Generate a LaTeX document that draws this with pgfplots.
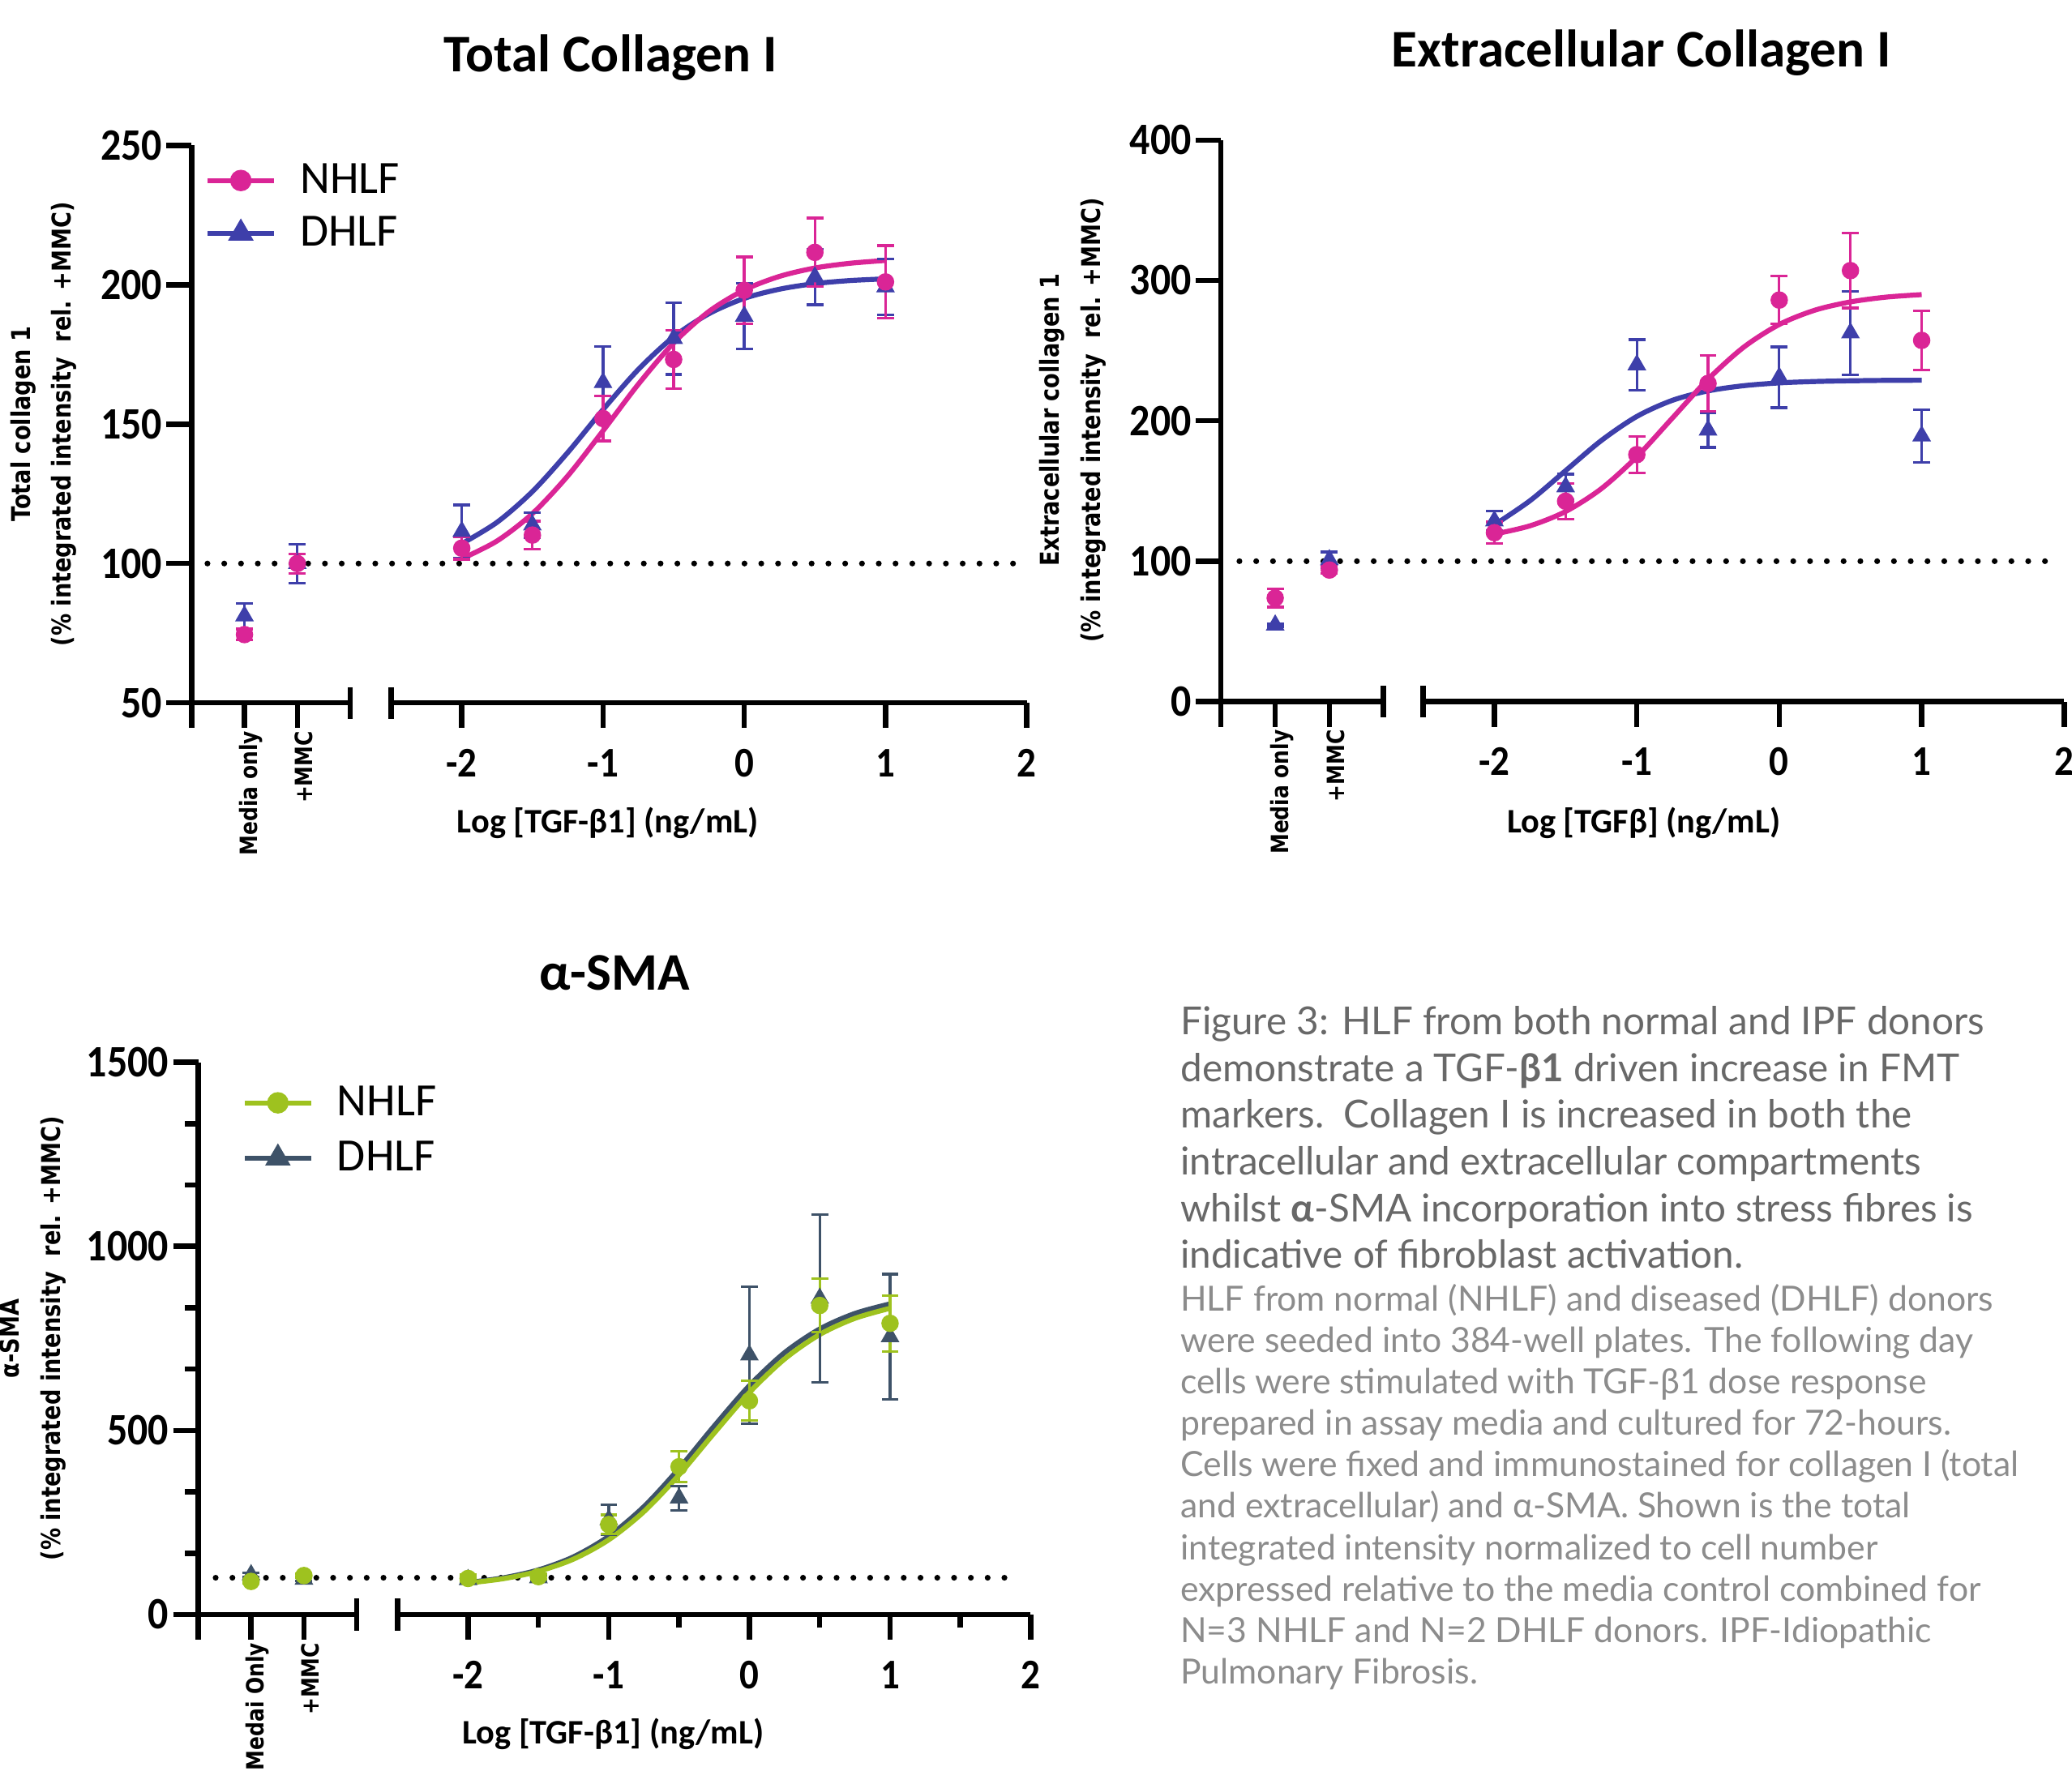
\documentclass[border=0pt]{standalone}
\usepackage{fontspec}
\usepackage{pgfplots}
\pgfplotsset{compat=1.18}
\setmainfont{Carlito}
\newfontfamily\numfont[FakeStretch=0.9]{Carlito}
\newfontfamily\labfont[FakeStretch=0.85]{DejaVu Sans}
\newfontfamily\capfont{Lato}

\definecolor{nmag}{RGB}{218,37,150}
\definecolor{dblue}{RGB}{62,63,170}
\definecolor{ngreen}{RGB}{158,194,31}
\definecolor{dslate}{RGB}{62,82,104}
\definecolor{caphead}{RGB}{104,104,104}
\definecolor{capbody}{RGB}{140,140,140}

\pgfplotsset{
  seg/.style={scale only axis, anchor=south west, clip=false,
    axis x line*=bottom, axis line style={line width=2pt,-},
    tick align=outside, major tick length=9.5pt, minor tick length=5pt,
    tick style={black, line width=2pt}},
  lseg/.style={seg, axis y line*=left, xmin=0, xmax=3, xtick={0,1,2},
    xticklabel style={rotate=90, anchor=east, inner sep=1pt, yshift=-2.5pt,
      font=\labfont\bfseries\fontsize{9}{9}\selectfont},
    yticklabel style={inner sep=1.5pt,
      font=\numfont\bfseries\fontsize{17}{17}\selectfont}},
  rseg/.style={seg, axis y line=none, ytick=\empty,
    xmin=-2.5, xmax=2, xtick={-2,-1,0,1,2}, xticklabels={-2,-1,0,1,2},
    xticklabel style={yshift=-4.5pt, font=\numfont\bfseries\fontsize{16}{16}\selectfont}},
  fit/.style={line width=1.9pt, smooth, no marks, forget plot},
  circ/.style={only marks, mark=*, mark size=3.1pt, forget plot,
    error bars/.cd, y dir=both, y explicit,
    error bar style={line width=1pt},
    error mark options={rotate=90, mark size=3.2pt, line width=1pt}},
  tri/.style={only marks, mark=triangle*, mark size=3.7pt, forget plot,
    error bars/.cd, y dir=both, y explicit,
    error bar style={line width=1pt},
    error mark options={rotate=90, mark size=3.2pt, line width=1pt}},
  leg/.style={legend cell align=left,
    legend style={draw=none, fill=none, inner sep=0pt,
      font=\fontsize{17.5}{17.5}\selectfont, nodes={inner sep=0pt}},
    legend image code/.code={
      \draw[mark repeat=2,mark phase=2,##1] plot coordinates {(0pt,0pt) (12.5pt,0pt) (25pt,0pt)};
      \path (34pt,0pt);}},
}
\tikzset{refline/.style={line width=2.2pt, line cap=round, dash pattern=on 0pt off 6.35pt},
  brk/.style={line width=2pt}}

\begin{document}
\begin{tikzpicture}
\useasboundingbox (0,0) rectangle (784pt,670pt);

% ---------- Total Collagen I ----------
\begin{axis}[lseg, leg, at={(72.5pt,404pt)}, width=60pt, height=211pt,
  ymin=50, ymax=250, ytick={50,100,150,200,250}, yticklabels={50,100,150,200,250},
  xticklabels={,Media only,+MMC},
  legend style={at={(0.083,0.968)}, anchor=north west, row sep=7.2pt}]
\addlegendimage{nmag, line width=1.9pt, mark=*, mark size=3.1pt}
\addlegendentry{NHLF}
\addlegendimage{dblue, line width=1.9pt, mark=triangle*, mark size=3.7pt}
\addlegendentry{DHLF}
\draw[refline] (axis cs:0.3,100) -- (axis cs:15.58,100);
\addplot[dblue, tri] coordinates {(1,81.2) +- (0,4.5) (2,100) +- (0,7)};
\addplot[nmag, circ] coordinates {(1,74.5) +- (0,2) (2,100) +- (0,3.5)};
\draw[brk] (rel axis cs:1,0) ++(0pt,-6pt) -- ++(0pt,12pt);
\end{axis}
\begin{axis}[rseg, at={(148pt,404pt)}, width=240.5pt, height=211pt, ymin=50, ymax=250]
\addplot[dblue, fit] coordinates {(-2,107.1) (-1.75,114.8) (-1.5,125.8) (-1.25,139.8) (-1,155.2) (-0.75,169.6) (-0.5,181.3) (-0.25,189.6) (0,195.1) (0.25,198.4) (0.5,200.4) (0.75,201.5) (1,202.1)};
\addplot[nmag, fit] coordinates {(-2,101.7) (-1.75,108.1) (-1.5,117.9) (-1.25,131.4) (-1,147.6) (-0.75,164.3) (-0.5,179.1) (-0.25,190.4) (0,198.1) (0.25,203.0) (0.5,206.0) (0.75,207.7) (1,208.7)};
\addplot[dblue, tri] coordinates {(-2,111.5) +- (0,9.5) (-1.5,113.8) +- (0,4.5) (-1,164.9) +- (0,13) (-0.5,180.7) +- (0,12.9) (0,188.7) +- (0,11.8) (0.5,202.8) +- (0,10) (1,199.2) +- (0,10)};
\addplot[nmag, circ] coordinates {(-2,105.5) +- (0,4) (-1.5,110.2) +- (0,5) (-1,152) +- (0,8) (-0.5,173.2) +- (0,10.5) (0,198) +- (0,12) (0.5,211.6) +- (0,12.3) (1,201) +- (0,13)};
\draw[brk] (rel axis cs:0,0) ++(0pt,-6pt) -- ++(0pt,12pt);
\end{axis}

% ---------- Extracellular Collagen I ----------
\begin{axis}[lseg, at={(462pt,404.5pt)}, width=61.5pt, height=212.5pt,
  ymin=0, ymax=400, ytick={0,100,200,300,400}, yticklabels={0,100,200,300,400},
  xticklabels={,Media only,+MMC}]
\draw[refline] (axis cs:0.34,100) -- (axis cs:15.39,100);
\addplot[dblue, tri] coordinates {(1,54.5) +- (0,1) (2,101) +- (0,5.5)};
\addplot[nmag, circ] coordinates {(1,73.8) +- (0,6.5) (2,93.7) +- (0,2.5)};
\draw[brk] (rel axis cs:1,0) ++(0pt,-6pt) -- ++(0pt,12pt);
\end{axis}
\begin{axis}[rseg, at={(538.5pt,404.5pt)}, width=242.5pt, height=212.5pt, ymin=0, ymax=400]
\addplot[dblue, fit] coordinates {(-2,125.9) (-1.75,143.1) (-1.5,164.5) (-1.25,185.9) (-1,203.1) (-0.75,214.6) (-0.5,221.3) (-0.25,225.0) (0,227.0) (0.25,228.0) (0.5,228.5) (0.75,228.8) (1,228.9)};
\addplot[nmag, fit] coordinates {(-2,119.3) (-1.75,125.2) (-1.5,135.4) (-1.25,151.6) (-1,174.4) (-0.75,202) (-0.5,229.6) (-0.25,252.4) (0,268.6) (0.25,278.8) (0.5,284.7) (0.75,288.1) (1,289.9)};
\addplot[dblue, tri] coordinates {(-2,128.7) +- (0,7) (-1.5,153) +- (0,9) (-1,239.9) +- (0,18) (-0.5,193.4) +- (0,12.4) (0,231) +- (0,21.7) (0.5,262.6) +- (0,29.7) (1,189.2) +- (0,18.9)};
\addplot[nmag, circ] coordinates {(-2,120.3) +- (0,7.7) (-1.5,142.7) +- (0,12.8) (-1,175.9) +- (0,13) (-0.5,226.6) +- (0,20) (0,286) +- (0,17) (0.5,307) +- (0,26.6) (1,257.3) +- (0,21)};
\draw[brk] (rel axis cs:0,0) ++(0pt,-6pt) -- ++(0pt,12pt);
\end{axis}

% ---------- alpha-SMA ----------
\begin{axis}[lseg, leg, at={(75pt,59pt)}, width=60pt, height=209pt,
  ymin=0, ymax=1500, ytick={0,500,1000,1500}, yticklabels={0,500,1000,1500},
  minor y tick num=2, xticklabels={,Medai Only,+MMC},
  legend style={at={(0.275,0.958)}, anchor=north west, row sep=8.2pt}]
\addlegendimage{ngreen, line width=1.9pt, mark=*, mark size=3.1pt}
\addlegendentry{NHLF}
\addlegendimage{dslate, line width=1.9pt, mark=triangle*, mark size=3.7pt}
\addlegendentry{DHLF}
\draw[refline] (axis cs:0.33,100) -- (axis cs:15.5,100);
\addplot[dslate, tri] coordinates {(1,108) +- (0,5) (2,96) +- (0,5)};
\addplot[ngreen, circ] coordinates {(1,90) +- (0,5) (2,106) +- (0,5)};
\draw[brk] (rel axis cs:1,0) ++(0pt,-6pt) -- ++(0pt,12pt);
\end{axis}
\begin{axis}[rseg, at={(150.5pt,59pt)}, width=239.5pt, height=209pt, ymin=0, ymax=1500,
  minor x tick num=1]
\addplot[dslate, fit] coordinates {(-2,87.0) (-1.75,99.7) (-1.5,121.3) (-1.25,156.9) (-1,212.7) (-0.75,293.1) (-0.5,396.7) (-0.25,512.1) (0,621.8) (0.25,711.3) (0.5,775.6) (0.75,817.8) (1,843.8)};
\addplot[ngreen, fit] coordinates {(-2,85.6) (-1.75,97.4) (-1.5,117.5) (-1.25,150.7) (-1,203.1) (-0.75,279.5) (-0.5,379.5) (-0.25,493.1) (0,603.0) (0.25,694.0) (0.5,760.6) (0.75,804.5) (1,831.8)};
\addplot[dslate, tri] coordinates {(-2,95) +- (0,8) (-1.5,100) +- (0,8) (-1,257.6) +- (0,40) (-0.5,316.5) +- (0,33) (0,704.9) +- (0,186) (0.5,859) +- (0,228) (1,754.5) +- (0,170)};
\addplot[ngreen, circ] coordinates {(-2,98) +- (0,10) (-1.5,103) +- (0,8) (-1,244.5) +- (0,26) (-0.5,401.5) +- (0,42) (0,580.6) +- (0,54) (0.5,839.5) +- (0,73) (1,791) +- (0,76)};
\draw[brk] (rel axis cs:0,0) ++(0pt,-6pt) -- ++(0pt,12pt);
\end{axis}

% ---------- titles and labels ----------
\begin{scope}[font=\bfseries\fontsize{20}{20}\selectfont]
\node[anchor=base] at (231pt,642.8pt) {Total Collagen I};
\node[anchor=base] at (621pt,644.8pt) {Extracellular Collagen I};
\node[anchor=base] at (232.5pt,295.2pt) {α-SMA};
\end{scope}
\begin{scope}[font=\bfseries\fontsize{13}{13}\selectfont]
\node[anchor=base] at (230pt,354.8pt) {Log [TGF-β1] (ng/mL)};
\node[anchor=base] at (622pt,354.8pt) {Log [TGFβ] (ng/mL)};
\node[anchor=base] at (232pt,10pt) {Log [TGF-β1] (ng/mL)};
\end{scope}
\begin{scope}[font=\labfont\bfseries\fontsize{9.8}{15.6}\selectfont]
\node[rotate=90, align=center] at (16.5pt,509.5pt) {Total collagen 1\\(\% integrated intensity\ \ rel. +MMC)};
\node[rotate=90, align=center] at (406pt,511pt) {Extracellular collagen 1\\(\% integrated intensity\ \ rel. +MMC)};
\node[rotate=90, align=center] at (12.5pt,163.5pt) {α-SMA\\(\% integrated intensity\ \ rel. +MMC)};
\end{scope}

% ---------- caption ----------
\begin{scope}[every node/.style={anchor=base west, inner sep=0pt}]
\foreach \t [count=\i] in {
  {Figure 3: HLF from both normal and IPF donors},
  {demonstrate a TGF-\textbf{β1} driven increase in FMT},
  {markers.\ \ Collagen I is increased in both the},
  {intracellular and extracellular compartments},
  {whilst \textbf{α}-SMA incorporation into stress fibres is},
  {indicative of fibroblast activation.}}
  \node[text=caphead, font=\capfont\fontsize{14.6}{14.6}\selectfont] at (446.5pt,{(278.5-(\i-1)*17.7)*1pt}) {\t};
\foreach \t [count=\i] in {
  {HLF from normal (NHLF) and diseased (DHLF) donors},
  {were seeded into 384-well plates. The following day},
  {cells were stimulated with TGF-β1 dose response},
  {prepared in assay media and cultured for 72-hours.},
  {Cells were fixed and immunostained for collagen I (total},
  {and extracellular) and α-SMA. Shown is the total},
  {integrated intensity normalized to cell number},
  {expressed relative to the media control combined for},
  {N=3 NHLF and N=2 DHLF donors. IPF-Idiopathic},
  {Pulmonary Fibrosis.}}
  \node[text=capbody, font=\capfont\fontsize{13.1}{13.1}\selectfont] at (446.5pt,{(174-(\i-1)*15.7)*1pt}) {\t};
\end{scope}
\end{tikzpicture}
\end{document}
